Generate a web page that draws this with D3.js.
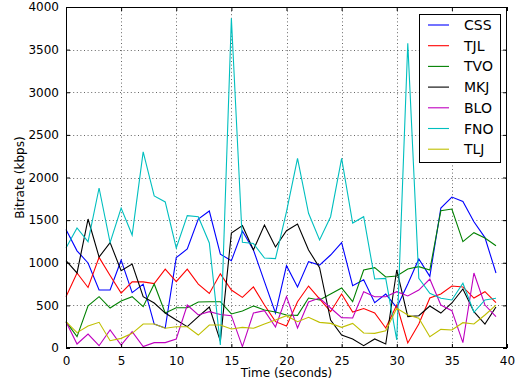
<!DOCTYPE html>
<html>
<head>
<meta charset="utf-8">
<script src="https://cdn.jsdelivr.net/npm/d3@7"></script>
<style>
  html, body { margin: 0; padding: 0; background: #fff; }
  svg { display: block; font-family: "DejaVu Sans", sans-serif; }
</style>
</head>
<body>
<svg id="chart" width="519" height="386"></svg>
<script>
// Bitrate per stream, sampled once per second (kbps)
const seconds = d3.range(0, 40);
const seriesNames = ["CSS", "TJL", "TVO", "MKJ", "BLO", "FNO", "TLJ"];
const seriesColors = ["#0000ff", "#ff0000", "#008000", "#000000", "#bf00bf", "#00bfbf", "#bfbf00"];

const CSS = [1390, 1140, 997, 680, 680, 1030, 650, 750, 281, 235,
             1060, 1161, 1513, 1607, 1100, 1024, 1372, 1150, 778, 410,
             966, 716, 1013, 973, 1091, 1236, 731, 800, 532, 633,
             475, 750, 1044, 840, 1642, 1771, 1720, 1481, 1295, 880];
const TJL = [600, 880, 710, 1063, 850, 645, 776, 776, 756, 925,
             778, 925, 750, 640, 870, 680, 594, 717, 504, 309,
             258, 543, 727, 575, 426, 633, 422, 463, 410, 235,
             504, 59, 281, 586, 633, 727, 716, 586, 661, 532];
const TVO = [309, 133, 496, 602, 469, 551, 602, 485, 751, 410,
             473, 473, 539, 543, 543, 399, 434, 493, 446, 422,
             387, 383, 586, 563, 633, 704, 543, 915, 942, 833,
             845, 927, 954, 915, 1611, 1630, 1247, 1353, 1290, 1200];
const MKJ = [1024, 880, 1513, 1067, 1236, 907, 985, 602, 528, 410,
             328, 250, 368, 481, 80, 1349, 1435, 1150, 1443, 1185,
             1376, 1455, 1150, 942, 328, 152, 106, 27, 106, 47,
             915, 368, 379, 493, 410, 528, 692, 426, 281, 481];
const BLO = [309, 47, 164, 27, 211, 35, 191, 16, 63, 63,
             106, 504, 387, 426, 393, 379, 16, 410, 438, 246,
             602, 235, 539, 586, 469, 356, 352, 659, 602, 602,
             661, 610, 680, 809, 504, 438, 63, 880, 504, 368];
const FNO = [1173, 1408, 1247, 1877, 1236, 1642, 1325, 2300, 1783, 1713,
             1173, 1552, 1540, 1232, 35, 3867, 1240, 1225, 1056, 1048,
             1600, 2225, 1580, 1267, 1540, 2225, 1466, 1540, 809, 817,
             94, 3574, 817, 641, 583, 563, 759, 419, 563, 583];
const TLJ = [309, 180, 258, 301, 86, 113, 172, 281, 281, 231,
             250, 250, 152, 270, 270, 223, 242, 231, 281, 328,
             379, 309, 360, 301, 289, 242, 289, 176, 172, 203,
             465, 387, 348, 133, 219, 211, 297, 281, 387, 504];

const seriesValues = [CSS, TJL, TVO, MKJ, BLO, FNO, TLJ];

const xTicks = [0, 5, 10, 15, 20, 25, 30, 35, 40];
const yTicks = [0, 500, 1000, 1500, 2000, 2500, 3000, 3500, 4000];

const svg = d3.select("#chart");
const plotLeft = 66, plotRight = 507, plotTop = 7, plotBottom = 348;

const x = d3.scaleLinear().domain([0, 40]).range([plotLeft, plotRight]);
const y = d3.scaleLinear().domain([0, 4000]).range([plotBottom, plotTop]);

// Dotted grid
const grid = svg.append("g").attr("stroke", "#000").attr("stroke-width", 0.8)
  .attr("stroke-dasharray", "1,2.6").attr("opacity", 0.75);
grid.selectAll("line.vx").data(xTicks.slice(1, -1)).join("line")
  .attr("x1", d => Math.round(x(d)) + 0.5).attr("x2", d => Math.round(x(d)) + 0.5)
  .attr("y1", plotTop).attr("y2", plotBottom);
grid.selectAll("line.hy").data(yTicks.slice(1, -1)).join("line")
  .attr("y1", d => Math.round(y(d)) + 0.5).attr("y2", d => Math.round(y(d)) + 0.5)
  .attr("x1", plotLeft).attr("x2", plotRight);

// Series lines
const line = d3.line().x((d, i) => x(seconds[i])).y(d => y(d));
const lines = svg.append("g").attr("fill", "none").attr("stroke-width", 1.1);
seriesValues.forEach((vals, k) => {
  lines.append("path").datum(vals).attr("d", line).attr("stroke", seriesColors[k]);
});

// Axes: ticks pointing inward on all four sides
const tickLen = 4;
const bottomAxis = d3.axisBottom(x).tickValues(xTicks).tickSize(-tickLen).tickPadding(8).tickFormat(d3.format("d"));
const topAxis = d3.axisTop(x).tickValues(xTicks).tickSize(-tickLen).tickFormat("");
const leftAxis = d3.axisLeft(y).tickValues(yTicks).tickSize(-tickLen).tickPadding(7).tickFormat(d3.format("d"));
const rightAxis = d3.axisRight(y).tickValues(yTicks).tickSize(-tickLen).tickFormat("");

function styleAxis(g) {
  g.select(".domain").remove();
  g.selectAll(".tick line").attr("stroke", "#000");
  g.selectAll(".tick text").attr("fill", "#000").attr("font-size", 12)
    .attr("font-family", "DejaVu Sans, sans-serif");
}
svg.append("g").attr("transform", `translate(0,${plotBottom})`).call(bottomAxis).call(styleAxis);
svg.append("g").attr("transform", `translate(0,${plotTop})`).call(topAxis).call(styleAxis);
svg.append("g").attr("transform", `translate(${plotLeft},0)`).call(leftAxis).call(styleAxis);
svg.append("g").attr("transform", `translate(${plotRight},0)`).call(rightAxis).call(styleAxis);

// Frame
svg.append("rect").attr("x", plotLeft + 0.5).attr("y", plotTop + 0.5)
  .attr("width", plotRight - plotLeft - 1).attr("height", plotBottom - plotTop - 1)
  .attr("fill", "none").attr("stroke", "#000").attr("stroke-width", 1);

// Axis titles
svg.append("text").attr("x", (plotLeft + plotRight) / 2).attr("y", 377)
  .attr("text-anchor", "middle").attr("font-size", 12).text("Time (seconds)");
svg.append("text").attr("transform", `translate(24,${(plotTop + plotBottom) / 2}) rotate(-90)`)
  .attr("text-anchor", "middle").attr("font-size", 12).text("Bitrate (kbps)");

// Legend
const lg = svg.append("g").attr("transform", "translate(419,14)");
lg.append("rect").attr("x", 0.5).attr("y", 0.5).attr("width", 81).attr("height", 148)
  .attr("fill", "#fff").attr("stroke", "#000").attr("stroke-width", 1);
seriesNames.forEach((name, k) => {
  const cy = 11 + k * 20.7;
  lg.append("line").attr("x1", 9).attr("x2", 30).attr("y1", cy).attr("y2", cy)
    .attr("stroke", seriesColors[k]).attr("stroke-width", 1.1);
  lg.append("text").attr("x", 45).attr("y", cy + 5).attr("font-size", 14)
    .attr("fill", "#000").text(name);
});
</script>
</body>
</html>
